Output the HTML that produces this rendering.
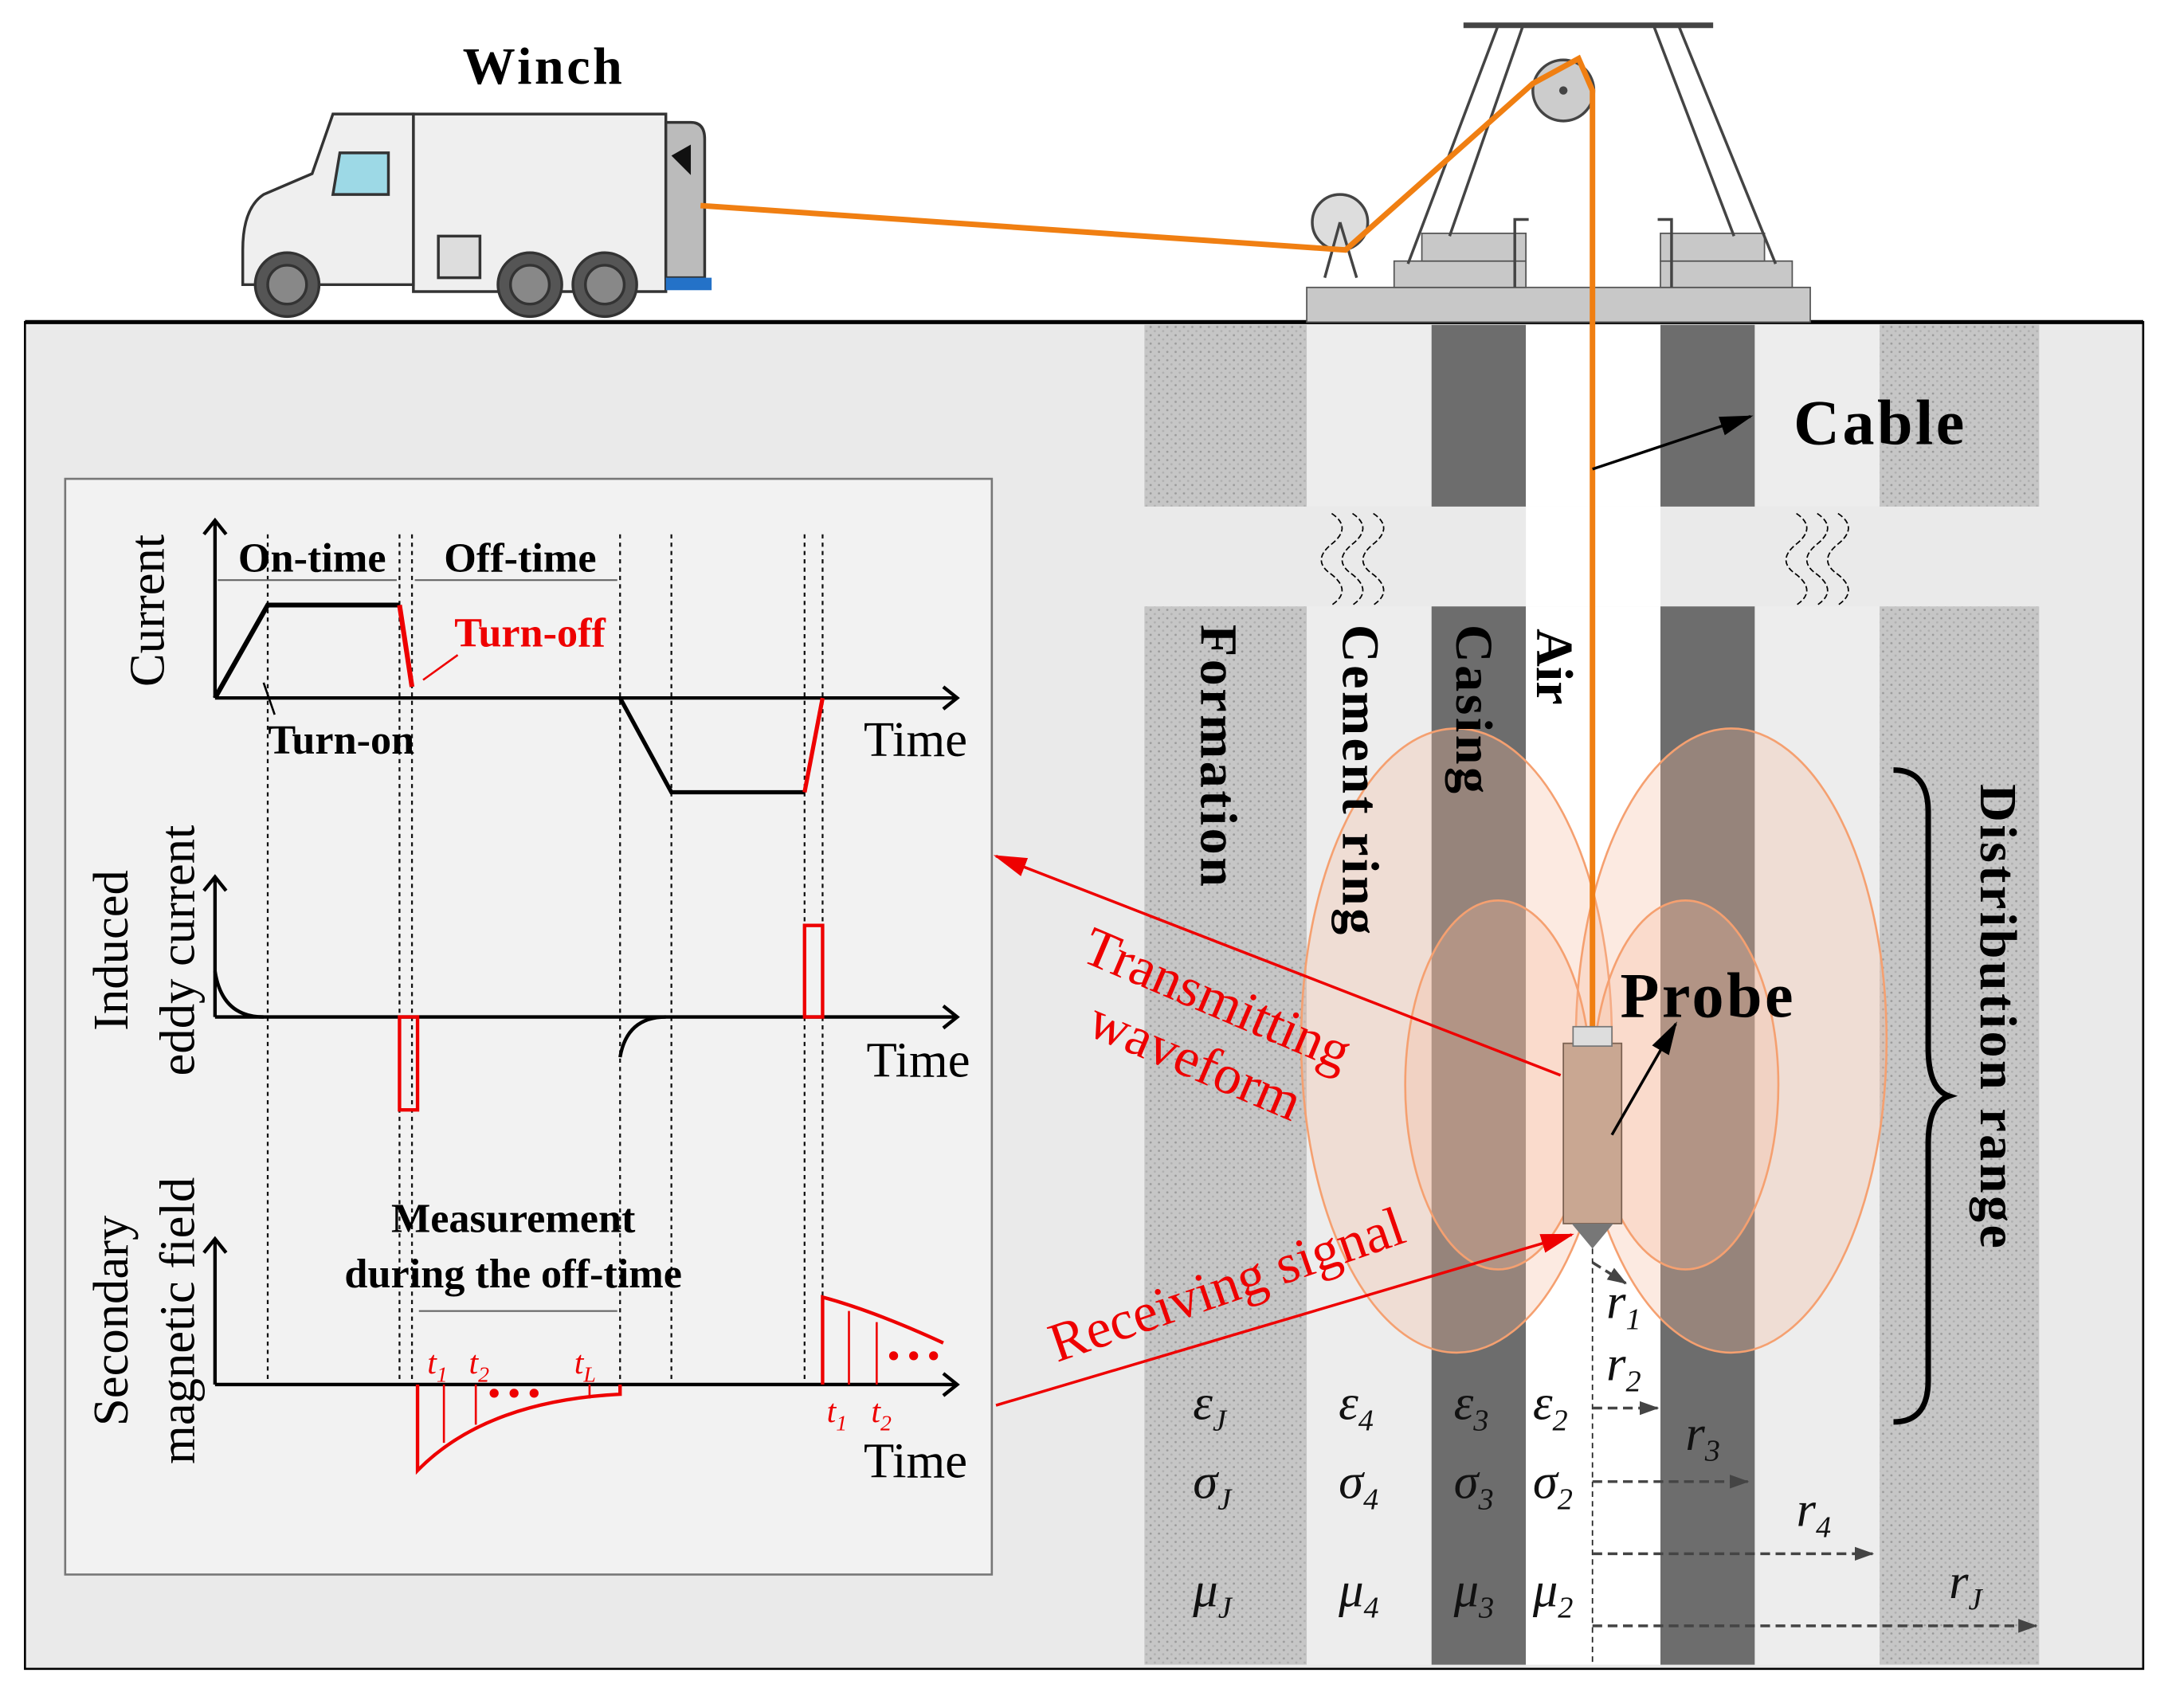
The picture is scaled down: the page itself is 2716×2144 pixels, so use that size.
<!DOCTYPE html>
<html><head><meta charset="utf-8"><style>html,body{margin:0;padding:0;background:#fff}svg{display:block}</style></head><body>
<svg xmlns="http://www.w3.org/2000/svg" width="2716" height="2144" viewBox="0 0 1560 1231" font-family="Liberation Serif, serif">
<defs>
<pattern id="dots" width="6" height="6" patternUnits="userSpaceOnUse"><rect width="6" height="6" fill="#c6c6c6"/><circle cx="1.5" cy="1.5" r="0.8" fill="#9a9a9a"/><circle cx="4.5" cy="4.5" r="0.8" fill="#b0b0b0"/></pattern>
<marker id="ab" markerWidth="10" markerHeight="10" refX="9" refY="5" orient="auto" markerUnits="userSpaceOnUse"><path d="M0,1 L10,5 L0,9z" fill="#000"/></marker>
<marker id="ar" markerWidth="24" markerHeight="16" refX="22" refY="8" orient="auto" markerUnits="userSpaceOnUse"><path d="M0,1 L24,8 L0,15z" fill="#e00"/></marker>
<marker id="ak" markerWidth="24" markerHeight="16" refX="22" refY="8" orient="auto" markerUnits="userSpaceOnUse"><path d="M0,1 L24,8 L0,15z" fill="#000"/></marker>
<marker id="ad" markerWidth="14" markerHeight="12" refX="13" refY="6" orient="auto" markerUnits="userSpaceOnUse"><path d="M0,1 L14,6 L0,11z" fill="#444"/></marker>
</defs>
<!-- ground -->
<rect x="18" y="232" width="1527" height="971" fill="#eaeaea" stroke="#000" stroke-width="1.5"/>
<line x1="18" y1="232" x2="1545" y2="232" stroke="#000" stroke-width="3"/>
<!-- well top -->
<g>
<rect x="825" y="234" width="117" height="131" fill="url(#dots)"/>
<rect x="942" y="234" width="90" height="131" fill="#ededed"/>
<rect x="1032" y="234" width="68" height="131" fill="#6d6d6d"/>
<rect x="1100" y="234" width="97" height="131" fill="#fff"/>
<rect x="1197" y="234" width="68" height="131" fill="#6d6d6d"/>
<rect x="1265" y="234" width="90" height="131" fill="#ededed"/>
<rect x="1355" y="234" width="115" height="131" fill="url(#dots)"/>
<rect x="825" y="437" width="117" height="763" fill="url(#dots)"/>
<rect x="942" y="437" width="90" height="763" fill="#ededed"/>
<rect x="1032" y="437" width="68" height="763" fill="#6d6d6d"/>
<rect x="1100" y="437" width="97" height="763" fill="#fff"/>
<rect x="1197" y="437" width="68" height="763" fill="#6d6d6d"/>
<rect x="1265" y="437" width="90" height="763" fill="#ededed"/>
<rect x="1355" y="437" width="115" height="763" fill="url(#dots)"/>
<rect x="1100" y="365" width="97" height="72" fill="#fff"/>
<path d="M960,370 q15,10 0,22 q-15,12 0,22 q15,12 0,22 M975,370 q15,10 0,22 q-15,12 0,22 q15,12 0,22 M990,370 q15,10 0,22 q-15,12 0,22 q15,12 0,22" fill="none" stroke="#000" stroke-dasharray="4,2"/>
<path d="M1295,370 q15,10 0,22 q-15,12 0,22 q15,12 0,22 M1310,370 q15,10 0,22 q-15,12 0,22 q15,12 0,22 M1325,370 q15,10 0,22 q-15,12 0,22 q15,12 0,22" fill="none" stroke="#000" stroke-dasharray="4,2"/>
</g>
<!-- derrick -->
<rect x="942" y="207" width="363" height="25" fill="#c8c8c8" stroke="#555"/>
<rect x="1005" y="188" width="95" height="19" fill="#c8c8c8" stroke="#555"/>
<rect x="1197" y="188" width="95" height="19" fill="#c8c8c8" stroke="#555"/>
<rect x="1025" y="168" width="75" height="20" fill="#c8c8c8" stroke="#555"/>
<rect x="1197" y="168" width="75" height="20" fill="#c8c8c8" stroke="#555"/>
<path d="M1092,207 V158 h10 M1205,207 V158 h-10" fill="none" stroke="#444" stroke-width="2"/>
<line x1="1055" y1="18" x2="1235" y2="18" stroke="#444" stroke-width="4"/>
<path d="M1080,18 L1015,190 M1098,18 L1045,170 M1210,18 L1280,190 M1192,18 L1250,170" stroke="#444" stroke-width="2"/>
<circle cx="966" cy="160" r="20" fill="#ddd" stroke="#444" stroke-width="2"/>
<path d="M966,160 L955,200 M966,160 L978,200" stroke="#444" stroke-width="2"/>
<circle cx="1127" cy="65" r="22" fill="#ccc" stroke="#444" stroke-width="2"/>
<circle cx="1127" cy="65" r="3" fill="#444"/>
<!-- truck -->
<g stroke="#333" stroke-width="2">
<rect x="298" y="82" width="182" height="128" fill="#efefef"/>
<path d="M480,88 h18 q10,0 10,12 v100 h-28z" fill="#bbb"/>
<path d="M298,82 H240 L225,125 L190,140 Q175,150 175,180 V205 H298z" fill="#efefef"/>
<path d="M245,110 h35 v30 h-40z" fill="#9dd9e6"/>
<rect x="316" y="170" width="30" height="30" fill="#ddd"/>
<circle cx="207" cy="205" r="23" fill="#555"/><circle cx="207" cy="205" r="14" fill="#888"/>
<circle cx="382" cy="205" r="23" fill="#555"/><circle cx="382" cy="205" r="14" fill="#888"/>
<circle cx="436" cy="205" r="23" fill="#555"/><circle cx="436" cy="205" r="14" fill="#888"/>
</g>
<path d="M484,112 l14,-8 v22z" fill="#111"/>
<rect x="480" y="200" width="33" height="9" fill="#2472c8"/>
<text x="392" y="60" font-size="38" font-weight="bold" text-anchor="middle" letter-spacing="2">Winch</text>
<!-- ellipses -->
<g fill="#f6b89a" fill-opacity="0.3" stroke="#f5a070" stroke-width="1.5">
<ellipse cx="1050" cy="750" rx="112" ry="225"/>
<ellipse cx="1248" cy="750" rx="112" ry="225"/>
<ellipse cx="1080" cy="782" rx="67" ry="133"/>
<ellipse cx="1215" cy="782" rx="67" ry="133"/>
</g>
<!-- cable -->
<polyline points="505,148 970,180 1105,60 1138,42 1148,65 1148,740" fill="none" stroke="#f07f12" stroke-width="4"/>
<!-- probe -->
<rect x="1127" y="752" width="42" height="130" fill="#c9a792" stroke="#7a6050"/>
<rect x="1134" y="740" width="28" height="14" fill="#ddd" stroke="#777"/>
<path d="M1133,882 h30 l-15,18z" fill="#777"/>
<line x1="1148" y1="900" x2="1148" y2="1200" stroke="#222" stroke-dasharray="4,3"/>
<!-- labels well -->
<g font-size="38" font-weight="bold">
<text transform="translate(866,450) rotate(90)" letter-spacing="2">Formation</text>
<text transform="translate(968,450) rotate(90)" letter-spacing="2">Cement ring</text>
<text transform="translate(1050,450) rotate(90)" letter-spacing="2">Casing</text>
<text transform="translate(1108,453) rotate(90)">Air</text>
<text transform="translate(1428,565) rotate(90)" letter-spacing="2">Distribution range</text>
<text x="1293" y="320" font-size="46" letter-spacing="2">Cable</text>
<text x="1168" y="733" font-size="46" letter-spacing="2">Probe</text>
</g>
<line x1="1148" y1="338" x2="1262" y2="300" stroke="#000" stroke-width="2" marker-end="url(#ak)"/>
<line x1="1162" y1="818" x2="1208" y2="738" stroke="#000" stroke-width="2" marker-end="url(#ak)"/>
<path d="M1365,555 q25,0 25,30 v170 q0,30 15,35 q-15,5 -15,35 v170 q0,30 -25,30" fill="none" stroke="#000" stroke-width="4"/>
<!-- params -->
<g font-size="36" font-style="italic" fill="#111">
<text x="860" y="1023">ε<tspan font-size="22" dy="8">J</tspan></text>
<text x="965" y="1023">ε<tspan font-size="22" dy="8">4</tspan></text>
<text x="1048" y="1023">ε<tspan font-size="22" dy="8">3</tspan></text>
<text x="1105" y="1023">ε<tspan font-size="22" dy="8">2</tspan></text>
<text x="860" y="1080">σ<tspan font-size="22" dy="8">J</tspan></text>
<text x="965" y="1080">σ<tspan font-size="22" dy="8">4</tspan></text>
<text x="1048" y="1080">σ<tspan font-size="22" dy="8">3</tspan></text>
<text x="1105" y="1080">σ<tspan font-size="22" dy="8">2</tspan></text>
<text x="860" y="1158">μ<tspan font-size="22" dy="8">J</tspan></text>
<text x="965" y="1158">μ<tspan font-size="22" dy="8">4</tspan></text>
<text x="1048" y="1158">μ<tspan font-size="22" dy="8">3</tspan></text>
<text x="1105" y="1158">μ<tspan font-size="22" dy="8">2</tspan></text>
<text x="1158" y="950">r<tspan font-size="22" dy="8">1</tspan></text>
<text x="1158" y="995">r<tspan font-size="22" dy="8">2</tspan></text>
<text x="1215" y="1045">r<tspan font-size="22" dy="8">3</tspan></text>
<text x="1295" y="1100">r<tspan font-size="22" dy="8">4</tspan></text>
<text x="1405" y="1152">r<tspan font-size="22" dy="8">J</tspan></text>
</g>
<g stroke="#444" stroke-width="2" stroke-dasharray="7,4">
<line x1="1148" y1="1015" x2="1195" y2="1015" marker-end="url(#ad)"/>
<line x1="1148" y1="1068" x2="1260" y2="1068" marker-end="url(#ad)"/>
<line x1="1148" y1="1120" x2="1350" y2="1120" marker-end="url(#ad)"/>
<line x1="1148" y1="1172" x2="1468" y2="1172" marker-end="url(#ad)"/>
<line x1="1148" y1="910" x2="1172" y2="925" marker-end="url(#ad)"/>
</g>
<!-- panel -->
<rect x="47" y="345" width="668" height="790" fill="#f2f2f2" stroke="#777" stroke-width="1.5"/>
<g stroke="#111" stroke-width="1.3" stroke-dasharray="3,3">
<line x1="193" y1="385" x2="193" y2="998"/><line x1="288" y1="385" x2="288" y2="998"/><line x1="297" y1="385" x2="297" y2="998"/>
<line x1="447" y1="385" x2="447" y2="998"/><line x1="484" y1="385" x2="484" y2="998"/><line x1="580" y1="385" x2="580" y2="998"/><line x1="593" y1="385" x2="593" y2="998"/>
</g>
<g stroke="#000" stroke-width="2.5" fill="none">
<path d="M155,503 V375 M147,385 L155,375 L163,385"/>
<path d="M155,503 H690 M680,495 L690,503 L680,511"/>
<path d="M155,733 V632 M147,642 L155,632 L163,642"/>
<path d="M155,733 H690 M680,725 L690,733 L680,741"/>
<path d="M155,998 V893 M147,903 L155,893 L163,903"/>
<path d="M155,998 H690 M680,990 L690,998 L680,1006"/>
<path d="M155,503 L193,436 H288" stroke-width="3.5"/>
<path d="M447,503 L484,571 H580" stroke-width="3"/>
<path d="M155,700 Q160,733 190,733"/>
<path d="M447,762 Q452,733 480,733"/>
</g>
<g stroke="#e00" stroke-width="2.5" fill="none">
<path d="M288,436 L297,495" stroke-width="3.5"/>
<path d="M580,571 L593,503" stroke-width="3"/>
<rect x="288" y="733" width="13" height="67"/>
<rect x="580" y="667" width="13" height="66"/>
<path d="M301,998 V1060 Q350,1010 447,1005 V998"/>
<path d="M593,998 V935 Q630,945 680,968"/>
<path d="M320,1040 V998 M343,1027 V998 M425,1008 V998 M612,998 V945 M632,998 V953" stroke-width="1.5"/>
</g>
<line x1="305" y1="490" x2="330" y2="472" stroke="#e00" stroke-width="1.5"/>
<line x1="190" y1="492" x2="198" y2="515" stroke="#000" stroke-width="1.5"/>
<g stroke="#666" stroke-width="1.2"><line x1="157" y1="418" x2="286" y2="418"/><line x1="299" y1="418" x2="445" y2="418"/><line x1="302" y1="945" x2="445" y2="945"/></g>
<g font-size="30" font-weight="bold" fill="#000">
<text x="225" y="412" text-anchor="middle">On-time</text>
<text x="375" y="412" text-anchor="middle">Off-time</text>
<text x="246" y="543" text-anchor="middle">Turn-on</text>
<text x="382" y="466" text-anchor="middle" fill="#e00">Turn-off</text>
<text x="370" y="888" text-anchor="middle">Measurement</text>
<text x="370" y="928" text-anchor="middle">during the off-time</text>
</g>
<g font-size="36">
<text x="660" y="545" text-anchor="middle">Time</text>
<text x="662" y="776" text-anchor="middle">Time</text>
<text x="660" y="1065" text-anchor="middle">Time</text>
<text transform="translate(118,440) rotate(-90)" text-anchor="middle">Current</text>
<text transform="translate(92,685) rotate(-90)" text-anchor="middle">Induced</text>
<text transform="translate(140,685) rotate(-90)" text-anchor="middle">eddy current</text>
<text transform="translate(92,952) rotate(-90)" text-anchor="middle">Secondary</text>
<text transform="translate(140,952) rotate(-90)" text-anchor="middle">magnetic field</text>
</g>
<g font-size="24" font-style="italic" fill="#e00">
<text x="308" y="990">t<tspan font-size="16" dy="6">1</tspan></text>
<text x="338" y="990">t<tspan font-size="16" dy="6">2</tspan></text>
<text x="414" y="990">t<tspan font-size="16" dy="6">L</tspan></text>
<text x="596" y="1025">t<tspan font-size="16" dy="6">1</tspan></text>
<text x="628" y="1025">t<tspan font-size="16" dy="6">2</tspan></text>
<text x="352" y="1012" font-style="normal" font-weight="bold">• • •</text>
<text x="640" y="985" font-style="normal" font-weight="bold">• • •</text>
</g>
<!-- red arrows -->
<line x1="1125" y1="775" x2="718" y2="617" stroke="#e00" stroke-width="2" marker-end="url(#ar)"/>
<line x1="718" y1="1013" x2="1133" y2="890" stroke="#e00" stroke-width="2" marker-end="url(#ar)"/>
<g font-size="40" fill="#e00">
<text transform="translate(778,692) rotate(23)">Transmitting</text>
<text transform="translate(782,745) rotate(23)">waveform</text>
<text transform="translate(762,982) rotate(-19)">Receiving signal</text>
</g>
</svg>
</body></html>
